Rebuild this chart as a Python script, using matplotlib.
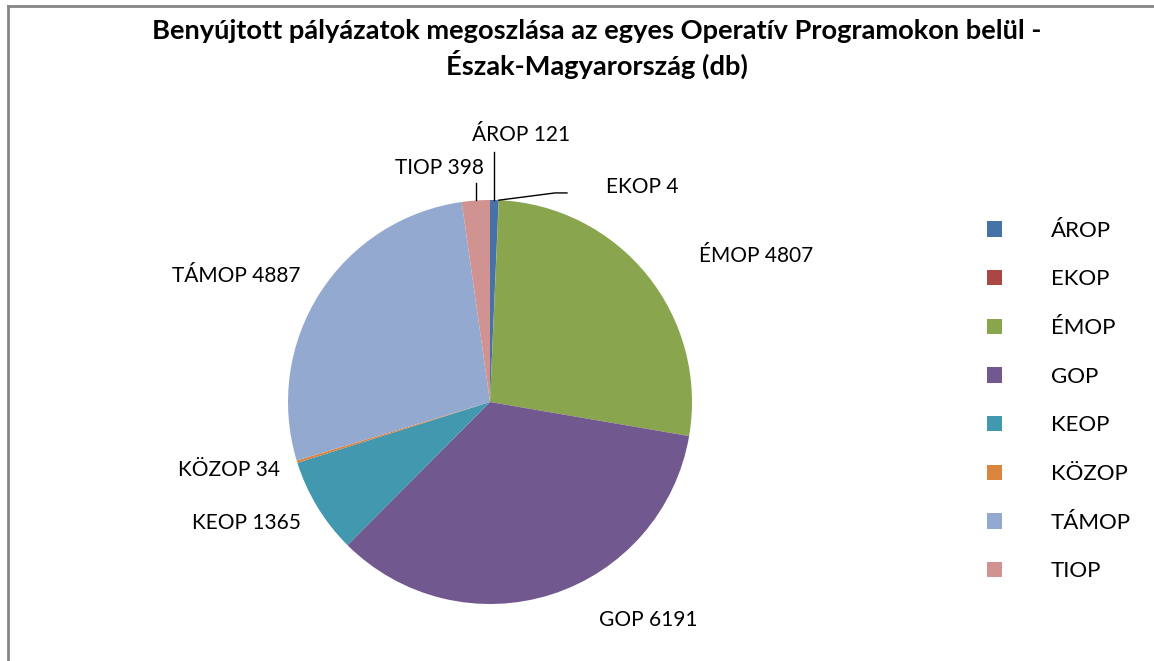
import numpy as np
import matplotlib.pyplot as plt
from matplotlib.lines import Line2D
from matplotlib.patches import Patch

plt.rcParams['font.family'] = ['Lato', 'DejaVu Sans']

programs = ['ÁROP', 'EKOP', 'ÉMOP', 'GOP', 'KEOP', 'KÖZOP', 'TÁMOP', 'TIOP']
counts = [121, 4, 4807, 6191, 1365, 34, 4887, 398]
colors = ['#4572A7', '#AA4643', '#89A54E', '#71588F',
          '#4198AF', '#DB843D', '#93A9CF', '#D19392']

title = ('Benyújtott pályázatok megoszlása az egyes Operatív Programokon belül -\n'
         'Észak-Magyarország (db)')

# label text positions, in pie units (radius = 1)
label_pos = {
    'ÁROP': (0.153, 1.322),
    'EKOP': (0.752, 1.064),
    'ÉMOP': (1.317, 0.723),
    'GOP': (0.782, -1.079),
    'KEOP': (-1.208, -0.599),
    'KÖZOP': (-1.292, -0.337),
    'TÁMOP': (-1.257, 0.624),
    'TIOP': (-0.252, 1.158),
}
# leader lines for the thin slices at the top
leaders = {
    'ÁROP': [(None, 1.238)],
    'TIOP': [(None, 1.084)],
    'EKOP': [(0.322, 1.035), (0.381, 1.035)],
}

W, H = 1154, 661
fig = plt.figure(figsize=(W / 100, H / 100), dpi=100)

cx, cy, r = 490, 402, 202
ax = fig.add_axes([(cx - r) / W, (H - cy - r) / H, 2 * r / W, 2 * r / H])
wedges, _ = ax.pie(counts, colors=colors, startangle=90, counterclock=False,
                   wedgeprops=dict(linewidth=0))
ax.set_xlim(-1, 1)
ax.set_ylim(-1, 1)
ax.set_aspect('equal')

for w, name, n in zip(wedges, programs, counts):
    x, y = label_pos[name]
    ax.text(x, y, f'{name} {n}', ha='center', va='center', fontsize=15,
            clip_on=False)
    if name in leaders:
        mid = np.deg2rad((w.theta1 + w.theta2) / 2)
        x0, y0 = np.cos(mid), np.sin(mid)
        xs, ys = [x0], [y0]
        for px, py in leaders[name]:
            xs.append(x0 if px is None else px)
            ys.append(py)
        ax.plot(xs, ys, color='black', lw=1, clip_on=False)

fig.text(597 / W, 1 - 49 / H, title, ha='center', va='center',
         fontsize=19.6, fontweight='bold', linespacing=1.26)

handles = [Patch(facecolor=c, edgecolor='none') for c in colors]
fig.legend(handles, programs, loc='center left',
           bbox_to_anchor=(987 / W, 1 - 401 / H), frameon=False,
           borderpad=0, borderaxespad=0,
           fontsize=16, handlelength=0.68, handleheight=0.68,
           handletextpad=2.2, labelspacing=1.29)

# chart area border (top and left edges)
grey = '#868686'
fig.add_artist(Line2D([8 / W, 1], [1 - 6 / H, 1 - 6 / H], color=grey, lw=2,
                      transform=fig.transFigure))
fig.add_artist(Line2D([8 / W, 8 / W], [0, 1 - 6 / H], color=grey, lw=2,
                      transform=fig.transFigure))

fig.savefig('out.png', dpi=100)
